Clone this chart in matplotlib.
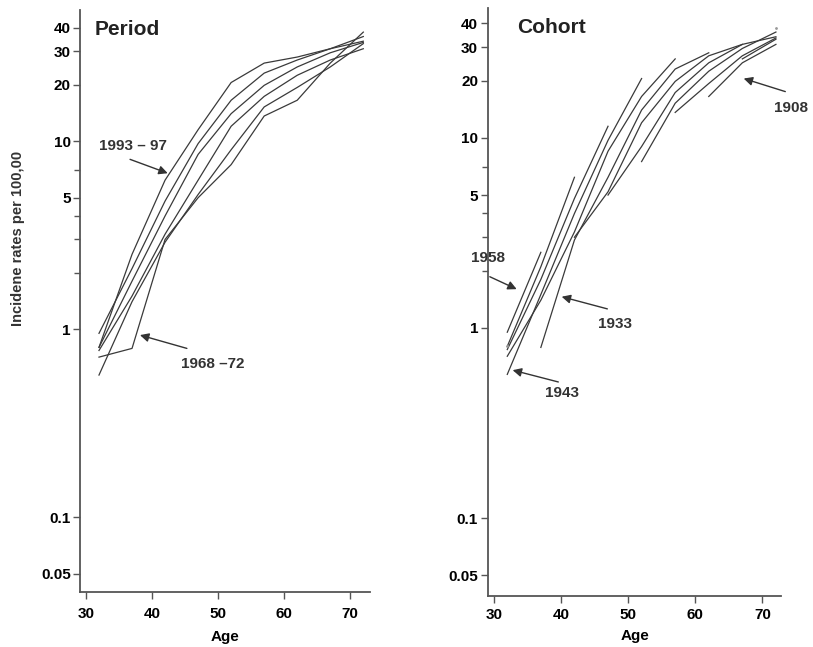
import matplotlib
matplotlib.use("Agg")
import matplotlib.pyplot as plt
from matplotlib.ticker import FixedLocator, FixedFormatter, NullFormatter

plt.rcParams['font.family'] = ['Liberation Sans', 'DejaVu Sans']
plt.rcParams['font.weight'] = 'bold'

# age group midpoints
ages = [32, 37, 42, 47, 52, 57, 62, 67, 72]

# period midpoints and their labels
periods = [1970, 1975, 1980, 1985, 1990, 1995]
period_labels = ["1968-72", "1973-77", "1978-82", "1983-87", "1988-92", "1993-97"]

# incidence rates per 100,000 by period (one list per period, by age group)
rates_1970 = [0.71, 0.79, 3.0, 5.0, 7.5, 13.6, 16.5, 26.0, 38.0]
rates_1975 = [0.57, 1.4, 2.9, 5.2, 9.0, 15.2, 19.3, 24.8, 33.0]
rates_1980 = [0.77, 1.5, 3.2, 6.2, 12.0, 17.3, 22.4, 27.0, 31.0]
rates_1985 = [0.80, 1.8, 4.0, 8.5, 14.0, 19.8, 24.8, 29.5, 33.5]
rates_1990 = [0.95, 2.1, 4.8, 9.7, 16.5, 23.0, 27.0, 31.0, 36.0]
rates_1995 = [0.80, 2.5, 6.2, 11.5, 20.5, 26.0, 28.0, 31.0, 34.0]
period_rates = [rates_1970, rates_1975, rates_1980, rates_1985, rates_1990, rates_1995]

ytick_vals = [0.05, 0.1, 1, 5, 10, 20, 30, 40]
ytick_labels = ["0.05", "0.1", "1", "5", "10", "20", "30", "40"]
yminor_vals = [2, 3, 4, 7]
xtick_vals = [30, 40, 50, 60, 70]

line_color = "#3a3a3a"
axis_color = "#555555"


def style_axis(ax, title, title_x, xlim, ylim, xpad, labelpad):
    ax.set_yscale("log")
    ax.set_ylim(*ylim)
    ax.set_xlim(*xlim)
    ax.yaxis.set_major_locator(FixedLocator(ytick_vals))
    ax.yaxis.set_major_formatter(FixedFormatter(ytick_labels))
    ax.yaxis.set_minor_locator(FixedLocator(yminor_vals))
    ax.yaxis.set_minor_formatter(NullFormatter())
    ax.set_xticks(xtick_vals)
    for side in ["top", "right"]:
        ax.spines[side].set_visible(False)
    for side in ["left", "bottom"]:
        ax.spines[side].set_color(axis_color)
        ax.spines[side].set_linewidth(1.3)
    ax.tick_params(which="both", direction="out", color=axis_color, width=1.0,
                   labelsize=11, pad=2)
    ax.tick_params(axis="x", pad=xpad)
    ax.tick_params(which="major", length=5)
    ax.tick_params(which="minor", length=4)
    ax.set_xlabel("Age", fontsize=11, fontweight="bold", labelpad=labelpad)
    ax.text(title_x, 0.983, title, transform=ax.transAxes, fontsize=15,
            fontweight="bold", va="top", ha="left", color="#222222")


def arrow(ax, text, text_xy, start_xy, tip_xy):
    ax.annotate("", xy=tip_xy, xytext=start_xy, annotation_clip=False,
                arrowprops=dict(arrowstyle="-|>", color="#333333", lw=1.0,
                                mutation_scale=13, shrinkA=0, shrinkB=0))
    ax.text(text_xy[0], text_xy[1], text, fontsize=11, fontweight="bold",
            ha="center", va="center", color="#333333", clip_on=False)


fig = plt.figure(figsize=(8.13, 6.47), dpi=100)
ax1 = fig.add_axes([0.099, 0.085, 0.356, 0.8995])
ax2 = fig.add_axes([0.600, 0.079, 0.361, 0.909])

# period panel
for rates in period_rates:
    ax1.plot(ages, rates, color=line_color, lw=0.9)
style_axis(ax1, "Period", 0.05, (29.2, 73.0), (0.040, 49.8), 6, 6)
arrow(ax1, "1993 \u2013 97", (37.1, 9.4), (36.7, 8.0), (42.4, 6.75))
arrow(ax1, "1968 \u201372", (49.2, 0.65), (45.3, 0.79), (38.2, 0.93))

# cohort panel: regroup the same rates by birth cohort (period - age)
cohorts = {}
for p, rates in zip(periods, period_rates):
    for a, r in zip(ages, rates):
        cohorts.setdefault(p - a, []).append((a, r))
for c in sorted(cohorts):
    pts = sorted(cohorts[c])
    xs = [pt[0] for pt in pts]
    ys = [pt[1] for pt in pts]
    if len(pts) == 1:
        ax2.plot(xs, ys, ".", color="#999999", ms=2)
    else:
        ax2.plot(xs, ys, color=line_color, lw=0.9)
style_axis(ax2, "Cohort", 0.099, (29.1, 72.8), (0.039, 48.3), 4, 4.5)
arrow(ax2, "1908", (74.2, 14.4), (73.4, 17.5), (67.2, 20.5))
arrow(ax2, "1958", (29.1, 2.33), (29.4, 1.86), (33.4, 1.6))
arrow(ax2, "1933", (48.1, 1.05), (46.9, 1.26), (40.1, 1.46))
arrow(ax2, "1943", (40.1, 0.455), (39.6, 0.52), (32.8, 0.60))

fig.text(0.022, 0.632, "Incidene rates per 100,00", rotation=90, fontsize=10.5,
         fontweight="bold", ha="center", va="center", color="#333333")

fig.savefig("out.png", dpi=100)
